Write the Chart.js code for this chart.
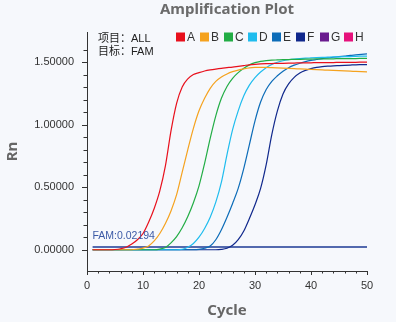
<!DOCTYPE html>
<html>
<head>
<meta charset="utf-8">
<script src="https://cdn.jsdelivr.net/npm/chart.js@4.4.1/dist/chart.umd.min.js"></script>
<style>
  html, body { margin: 0; padding: 0; background: #f6f8fc; }
  #wrap { width: 396px; height: 322px; position: relative; }
</style>
</head>
<body>
<div id="wrap"><canvas id="c" width="396" height="322"></canvas></div>
<script>
// ---- data ----
const titleText = 'Amplification Plot';
const xTitle = 'Cycle';
const yTitle = 'Rn';
const infoLines = ['项目：ALL', '目标：FAM'];
const seriesNames = ['A', 'B', 'C', 'D', 'E', 'F', 'G', 'H'];
const seriesColors = ['#e8101c', '#f5a21e', '#22ad45', '#1fbcee', '#0c6cb8', '#10288c', '#6a1b8f', '#e6127c'];
const cycles = Array.from({length: 50}, (_, i) => i + 1);
const thresholdValue = 0.02194;
const thresholdLabel = 'FAM:0.02194';

const seriesA = [0,0,0,0,0.002,0.008,0.02,0.045,0.08,0.13,
  0.22,0.33,0.47,0.67,0.95,1.17,1.30,1.365,1.40,1.415,
  1.428,1.437,1.444,1.45,1.455,1.46,1.466,1.472,1.478,1.482,
  1.485,1.487,1.488,1.489,1.49,1.491,1.492,1.493,1.494,1.494,
  1.495,1.495,1.496,1.496,1.497,1.497,1.498,1.498,1.499,1.5];
const seriesB = [0,0,0,0,0,0,0,0,0.005,0.013,
  0.03,0.07,0.13,0.21,0.31,0.44,0.62,0.80,0.97,1.11,
  1.21,1.29,1.345,1.38,1.405,1.423,1.435,1.445,1.453,1.457,
  1.458,1.457,1.455,1.453,1.451,1.449,1.447,1.445,1.443,1.441,
  1.439,1.437,1.435,1.433,1.431,1.429,1.427,1.425,1.423,1.421];
const seriesC = [0,0,0,0,0,0,0,0,0,0,
  0,0,0.005,0.018,0.055,0.105,0.175,0.265,0.375,0.51,
  0.69,0.89,1.07,1.21,1.305,1.37,1.415,1.45,1.477,1.495,
  1.505,1.511,1.515,1.517,1.519,1.52,1.521,1.522,1.523,1.524,
  1.525,1.525,1.526,1.526,1.527,1.527,1.528,1.528,1.529,1.53];
const seriesD = [0,0,0,0,0,0,0,0,0,0,
  0,0,0,0,0,0,0.004,0.02,0.05,0.10,
  0.17,0.26,0.38,0.54,0.76,0.96,1.11,1.23,1.315,1.375,
  1.42,1.455,1.48,1.498,1.51,1.518,1.524,1.528,1.531,1.533,
  1.535,1.537,1.539,1.541,1.542,1.543,1.544,1.546,1.547,1.548];
const seriesE = [0,0,0,0,0,0,0,0,0,0,
  0,0,0,0,0,0,0,0,0,0.003,
  0.012,0.03,0.08,0.16,0.26,0.37,0.49,0.65,0.84,1.03,
  1.18,1.28,1.345,1.39,1.427,1.455,1.475,1.49,1.503,1.513,
  1.52,1.527,1.533,1.538,1.543,1.548,1.553,1.557,1.561,1.565];
const seriesF = [0,0,0,0,0,0,0,0,0,0,
  0,0,0,0,0,0,0,0,0,0,
  0,0,0,0.003,0.012,0.035,0.08,0.15,0.25,0.36,
  0.49,0.68,0.92,1.11,1.245,1.325,1.377,1.412,1.433,1.447,
  1.457,1.463,1.467,1.47,1.472,1.474,1.476,1.478,1.479,1.48];
const seriesG = [];
const seriesH = [];
const seriesValues = [seriesA, seriesB, seriesC, seriesD, seriesE, seriesF, seriesG, seriesH];

const xMin = 0, xMax = 50, xStep = 2, xLabelEvery = 10;
const yMin = -0.17, yMax = 1.74, yStep = 0.1, yLabelEvery = 0.5;

// ---- chart ----
const BG = '#f6f8fc';
const tickFont = {family: '"Liberation Sans", Arial, sans-serif', size: 11};
const boldFont = {family: '"Noto Sans", "Open Sans", sans-serif', size: 15, weight: 'bold'};

const datasets = seriesValues.map((vals, i) => ({
  label: seriesNames[i],
  data: vals.map((v, k) => ({x: cycles[k], y: v})),
  borderColor: seriesColors[i],
  backgroundColor: seriesColors[i],
  borderWidth: 1.2,
  pointRadius: 0,
  fill: false,
  cubicInterpolationMode: 'monotone',
  isSeries: true
}));
datasets.push({
  label: 'threshold',
  data: [{x: cycles[0], y: thresholdValue}, {x: cycles[cycles.length - 1], y: thresholdValue}],
  borderColor: '#1c3a94',
  borderWidth: 1.6,
  pointRadius: 0,
  fill: false,
  isSeries: false
});

function isMultiple(v, step) {
  const r = v / step;
  return Math.abs(r - Math.round(r)) < 1e-6;
}

const decor = {
  id: 'decor',
  beforeDraw(chart) {
    const ctx = chart.ctx;
    ctx.save();
    ctx.fillStyle = BG;
    ctx.fillRect(0, 0, chart.width, chart.height);
    ctx.restore();
  },
  afterDraw(chart) {
    const ctx = chart.ctx;
    const ca = chart.chartArea;
    const xs = chart.scales.x, ys = chart.scales.y;
    ctx.save();
    // tick marks (major longer, minor shorter)
    ctx.strokeStyle = '#333';
    ctx.lineWidth = 1;
    ctx.beginPath();
    xs.ticks.forEach(t => {
      if (!isMultiple(t.value, xStep)) return;
      const px = Math.round(xs.getPixelForValue(t.value)) + 0.5;
      const len = isMultiple(t.value, xLabelEvery) ? 4 : 2.5;
      ctx.moveTo(px, ca.bottom);
      ctx.lineTo(px, ca.bottom + len);
    });
    ys.ticks.forEach(t => {
      if (!isMultiple(t.value, yStep)) return;
      const py = Math.round(ys.getPixelForValue(t.value)) + 0.5;
      const len = isMultiple(t.value, yLabelEvery) ? 5 : 3.5;
      ctx.moveTo(ca.left, py);
      ctx.lineTo(ca.left - len, py);
    });
    ctx.stroke();

    // title centred over plot area
    ctx.fillStyle = '#6b6b6b';
    ctx.font = 'bold 15px "Noto Sans", "Open Sans", sans-serif';
    ctx.textAlign = 'center';
    ctx.textBaseline = 'middle';
    ctx.fillText(titleText, (ca.left + ca.right) / 2, 10);

    // info text
    ctx.fillStyle = '#222';
    ctx.font = '11px "Liberation Sans", "Noto Sans CJK SC", sans-serif';
    ctx.textAlign = 'left';
    infoLines.forEach((s, i) => ctx.fillText(s, ca.left + 11, ca.top + 6.5 + i * 13));

    // threshold label
    ctx.fillStyle = '#3c5aa6';
    ctx.font = '10.5px "Liberation Sans", Arial, sans-serif';
    ctx.fillText(thresholdLabel, ca.left + 5.5, ys.getPixelForValue(thresholdValue) - 11);

    // legend
    const items = chart.data.datasets.filter(d => d.isSeries);
    const step = 24, box = 9;
    let lx = ca.right + 1 - items.length * step;
    const ly = ca.top + 5;
    ctx.font = '12px "Liberation Sans", Arial, sans-serif';
    items.forEach(d => {
      ctx.fillStyle = d.borderColor;
      ctx.fillRect(lx, ly - box / 2, box, box);
      ctx.fillStyle = '#333';
      ctx.fillText(d.label, lx + box + 2, ly + 0.5);
      lx += step;
    });
    ctx.restore();
  }
};

new Chart(document.getElementById('c'), {
  type: 'line',
  data: {datasets},
  options: {
    responsive: false,
    animation: false,
    devicePixelRatio: 1,
    layout: {padding: {top: 32, right: 29, bottom: 0, left: 0}},
    plugins: {legend: {display: false}, title: {display: false}, tooltip: {enabled: false}},
    scales: {
      x: {
        type: 'linear', min: xMin, max: xMax,
        afterFit: s => { s.height = 51; },
        ticks: {stepSize: xStep, autoSkip: false, maxRotation: 0, font: tickFont, color: '#333', padding: 4,
          callback: v => isMultiple(v, xLabelEvery) ? String(v) : ''},
        grid: {display: true, drawOnChartArea: false, tickLength: 4, tickColor: 'rgba(0,0,0,0)'},
        border: {display: true, color: '#333', width: 1},
        title: {display: true, text: xTitle, color: '#666', font: boldFont, padding: {top: 0, bottom: 2}}
      },
      y: {
        type: 'linear', min: yMin, max: yMax,
        afterFit: s => { s.width = 87; },
        ticks: {stepSize: yStep, autoSkip: false, font: tickFont, color: '#333', padding: 8,
          callback: v => isMultiple(v, yLabelEvery) ? v.toFixed(5) : ''},
        grid: {display: true, drawOnChartArea: false, tickLength: 5, tickColor: 'rgba(0,0,0,0)'},
        border: {display: true, color: '#333', width: 1},
        title: {display: true, text: yTitle, color: '#666', font: boldFont, padding: {top: 4, bottom: 0}}
      }
    }
  },
  plugins: [decor]
});
</script>
</body>
</html>
